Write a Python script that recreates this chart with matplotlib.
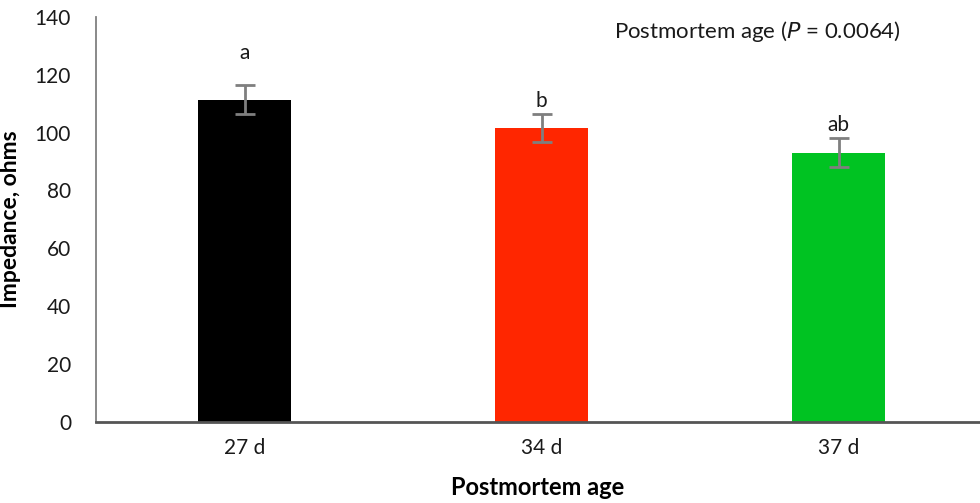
import matplotlib
matplotlib.use("Agg")
import matplotlib.pyplot as plt

categories = ["27 d", "34 d", "37 d"]
values = [111.4, 101.6, 93.0]
errors = [4.9, 4.9, 5.0]
letters = ["a", "b", "ab"]
colors = ["#000000", "#ff2600", "#00c322"]
yticks = [0, 20, 40, 60, 80, 100, 120, 140]

plt.rcParams['font.family'] = ['Lato', 'DejaVu Sans']

fig = plt.figure(figsize=(9.8, 5.03), dpi=100)
W, H = 980, 503
left, right = 96, 980
top, bottom = 17, 421.5
ax = fig.add_axes([left / W, 1 - bottom / H, (right - left) / W, (bottom - top) / H])

x = list(range(len(categories)))
ax.bar(x, values, width=0.313, color=colors, zorder=2)
ax.errorbar(x, values, yerr=errors, fmt='none', ecolor='#7f7f7f',
            elinewidth=2, capsize=7, capthick=2, zorder=3)
letter_offsets_px = [22, 3, 3]
for xi, v, e, l, off in zip(x, values, errors, letters, letter_offsets_px):
    ax.annotate(l, (xi, v + e), xytext=(0, off * 0.72), textcoords='offset points',
                ha='center', va='bottom', fontsize=15, color='#1a1a1a')

ax.set_xlim(-0.5, (right - 244.5) / 297)
ax.set_ylim(0, 140)
ax.set_yticks(yticks)
ax.set_xticks(x)
ax.set_xticklabels(categories)
ax.tick_params(axis='both', length=0, labelsize=15, colors='#1a1a1a')
ax.tick_params(axis='y', pad=18)
ax.tick_params(axis='x', pad=12)

for s in ['top', 'right']:
    ax.spines[s].set_visible(False)
ax.spines['left'].set_color('#808080')
ax.spines['left'].set_linewidth(1.3)
ax.spines['bottom'].set_color('#555555')
ax.spines['bottom'].set_linewidth(2)

ax.set_ylabel("Impedance, ohms", fontsize=16.5, fontweight='bold', labelpad=10)
ax.set_xlabel("Postmortem age", fontsize=17, fontweight='bold', labelpad=13)

fig.text(614 / W, 1 - 31 / H, "Postmortem age ($\\it{P}$ = 0.0064)", fontsize=16,
         ha='left', va='center', color='#1a1a1a')

fig.savefig("out.png", dpi=100)
